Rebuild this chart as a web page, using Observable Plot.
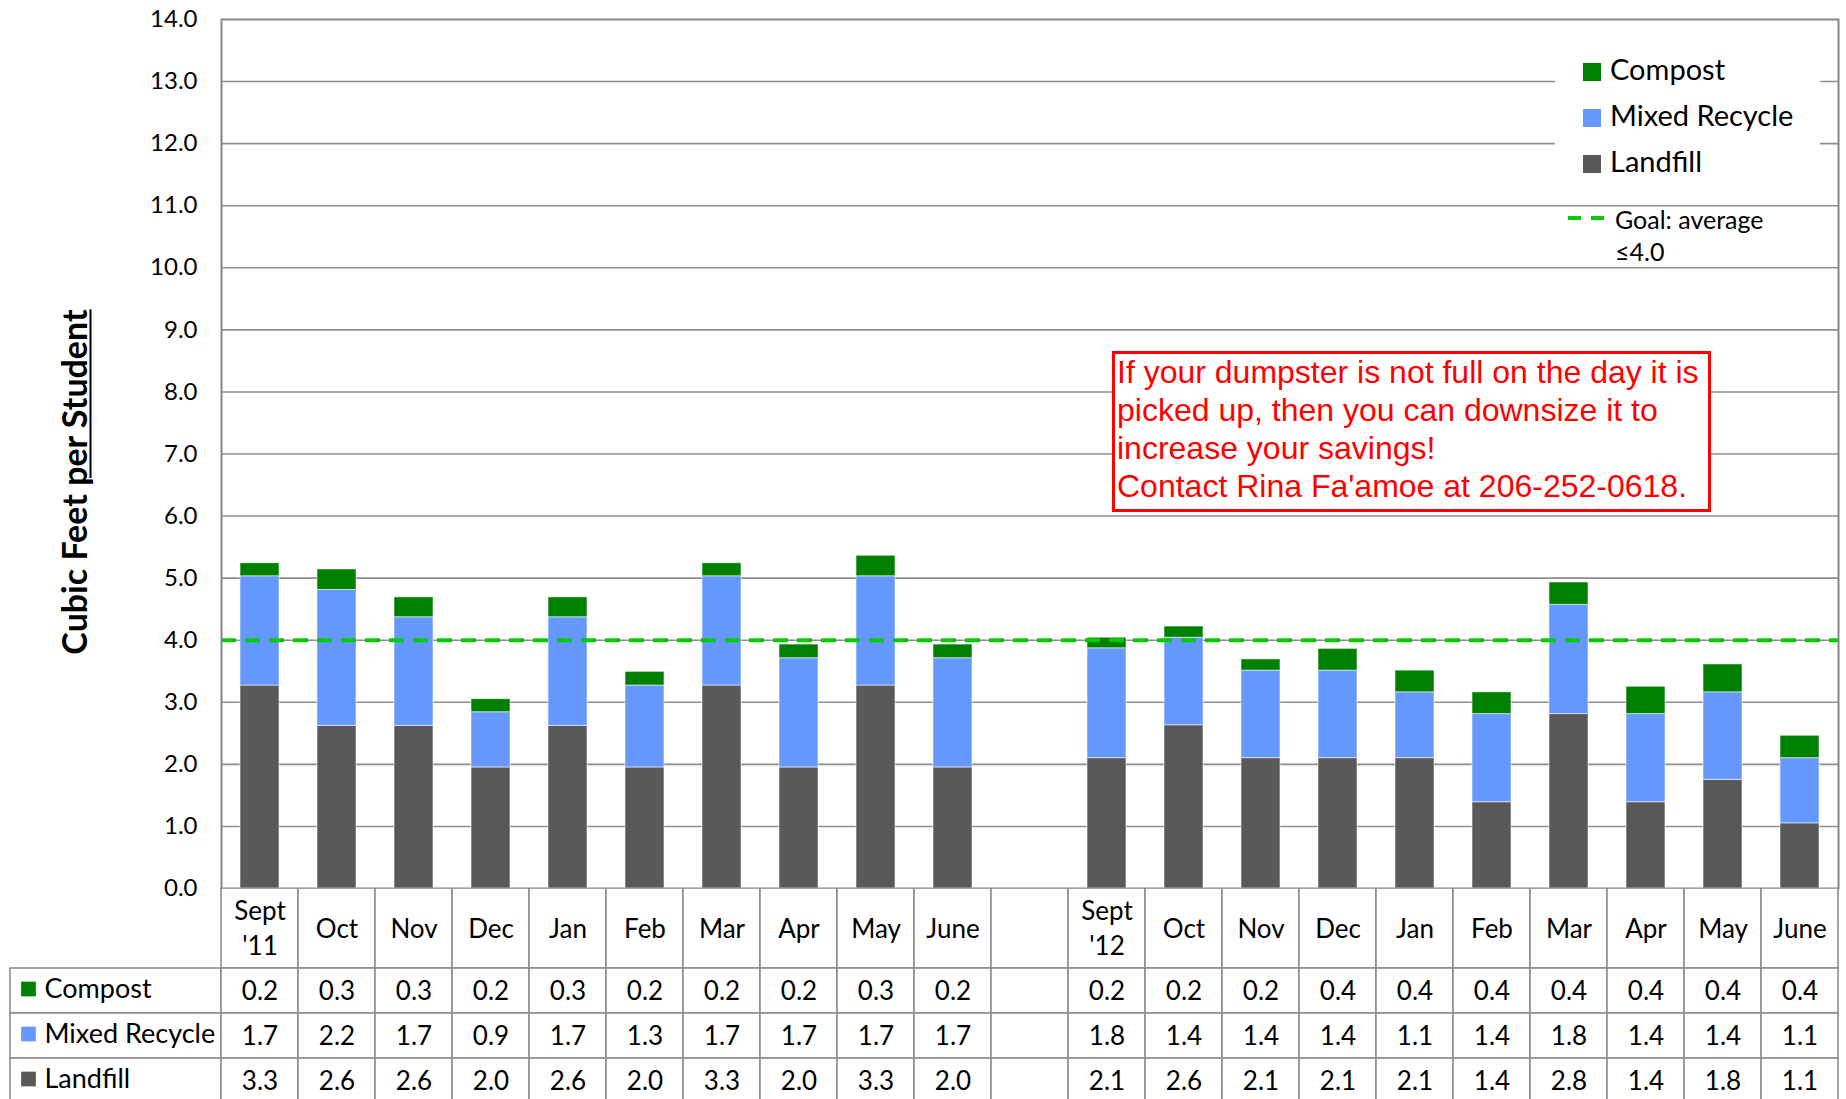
<!DOCTYPE html>
<html>
<head>
<meta charset="utf-8">
<script src="https://cdn.jsdelivr.net/npm/d3@7"></script>
<script src="https://cdn.jsdelivr.net/npm/@observablehq/plot@0.6"></script>
<style>
  html, body { margin: 0; padding: 0; background: #fff; overflow: hidden; }
  #wrap { position: relative; width: 1846px; height: 1099px; font-family: Lato, sans-serif; }
  #wrap svg { position: absolute; left: 0; }
  .ytitle { position: absolute; left: 73px; top: 482px; transform: translate(-50%, -50%) rotate(-90deg);
    white-space: nowrap; font-family: Lato, sans-serif; font-weight: bold; font-size: 34px; color: #000; }
  .ytitle u { text-decoration-thickness: 2px; text-underline-offset: 3px; }
  .legend { position: absolute; left: 1555px; top: 35px; width: 265px; height: 150px; background: #fff; }
  .litem { position: absolute; left: 28px; font-size: 29px; line-height: 34px; white-space: nowrap; color: #000; }
  .litem i { display: inline-block; width: 18px; height: 18px; margin-right: 9px; vertical-align: -1px; }
  .goal { position: absolute; left: 1568px; top: 203px; font-size: 25px; line-height: 32px; color: #000; }
  .goal .dash { position: absolute; top: 13px; width: 13px; height: 3.5px; background: #00CC00; }
  .goal .txt { position: absolute; left: 47px; top: 0; white-space: nowrap; }
  .note { position: absolute; left: 1112px; top: 351px; width: 591px; height: 155px; background: #fff;
    border: 3px solid #FF0000; color: #FF0000; font-family: "Liberation Sans", Arial, sans-serif;
    font-size: 32px; line-height: 38px; padding: 0 0 0 2px; box-sizing: content-box; white-space: nowrap; }
  .note div { position: relative; top: -1px; }
</style>
</head>
<body>
<div id="wrap"></div>
<script>
// ---- data ----
const categories = ["Sept '11","Oct '11","Nov '11","Dec '11","Jan '12","Feb '12","Mar '12","Apr '12","May '12","June '12","gap",
                    "Sept '12","Oct '12","Nov '12","Dec '12","Jan '13","Feb '13","Mar '13","Apr '13","May '13","June '13"];
const tickLabels = ["Sept\n'11","Oct","Nov","Dec","Jan","Feb","Mar","Apr","May","June","",
                    "Sept\n'12","Oct","Nov","Dec","Jan","Feb","Mar","Apr","May","June"];
const yTicks = [0,1,2,3,4,5,6,7,8,9,10,11,12,13,14];
const goal = 4.0;

// bar heights
const landfillBar = [3.27,2.62,2.62,1.95,2.62,1.95,3.27,1.95,3.27,1.95,null,2.10,2.63,2.10,2.10,2.10,1.39,2.81,1.39,1.75,1.05];
const mixedBar    = [1.76,2.19,1.75,0.89,1.75,1.32,1.76,1.76,1.76,1.76,null,1.77,1.41,1.41,1.41,1.06,1.42,1.76,1.42,1.41,1.05];
const compostBar  = [0.21,0.33,0.32,0.21,0.32,0.22,0.21,0.22,0.33,0.22,null,0.17,0.18,0.18,0.35,0.35,0.35,0.36,0.44,0.45,0.36];

// data table values (as printed)
const compostTable  = [0.2,0.3,0.3,0.2,0.3,0.2,0.2,0.2,0.3,0.2,null,0.2,0.2,0.2,0.4,0.4,0.4,0.4,0.4,0.4,0.4];
const mixedTable    = [1.7,2.2,1.7,0.9,1.7,1.3,1.7,1.7,1.7,1.7,null,1.8,1.4,1.4,1.4,1.1,1.4,1.8,1.4,1.4,1.1];
const landfillTable = [3.3,2.6,2.6,2.0,2.6,2.0,3.3,2.0,3.3,2.0,null,2.1,2.6,2.1,2.1,2.1,1.4,2.8,1.4,1.8,1.1];

const seriesNames  = ["Compost","Mixed Recycle","Landfill"];
const seriesColors = ["#008000","#6699FF","#595959"];

const noteLines = ["If your dumpster is not full on the day it is",
                   "picked up, then you can downsize it to",
                   "increase your savings!",
                   "Contact Rina Fa'amoe at 206-252-0618."];

// ---- build ----
const wrap = document.getElementById("wrap");
const stackOrder = ["Landfill","Mixed Recycle","Compost"];
const barSeries = {"Landfill": landfillBar, "Mixed Recycle": mixedBar, "Compost": compostBar};
const barData = [];
for (const s of stackOrder) barSeries[s].forEach((v, i) => { if (v != null) barData.push({cat: categories[i], series: s, value: v}); });

const chart = Plot.plot({
  width: 1846, height: 912,
  marginLeft: 221, marginRight: 8, marginTop: 19, marginBottom: 24,
  style: {fontFamily: "Lato, sans-serif", fontSize: "24px", color: "#000", background: "transparent", overflow: "visible"},
  x: {type: "band", domain: categories, padding: 0, axis: null},
  y: {domain: [0, 14]},
  color: {domain: seriesNames, range: seriesColors},
  marks: [
    Plot.ruleY(yTicks.slice(1, -1), {stroke: "#8e8e8e", strokeWidth: 1.6}),
    Plot.barY(barData, {x: "cat", y: "value", fill: "series", insetLeft: 19, insetRight: 19,
                         stroke: "#ffffff", strokeOpacity: 0.55, strokeWidth: 1}),
    Plot.ruleY([goal], {stroke: "#00CC00", strokeWidth: 4, strokeDasharray: "15,9"}),
    Plot.frame({stroke: "#868686", strokeWidth: 2}),
    Plot.axisY({ticks: yTicks, tickFormat: d => d.toFixed(1), tickSize: 0, tickPadding: 24, label: null, fontSize: 24})
  ]
});
chart.style.top = "0px";
wrap.appendChild(chart);

// ---- data table below the axis ----
const nCols = categories.length;
const colW = (1838 - 221) / nCols;
const labelLeft = (10 - 221) / colW;
const rows = [
  {name: "Compost",       vals: compostTable,  y1: 80,  y2: 125},
  {name: "Mixed Recycle", vals: mixedTable,    y1: 125, y2: 170},
  {name: "Landfill",      vals: landfillTable, y1: 170, y2: 215}
];
const cells = [], texts = [], labels = [];
categories.forEach((c, i) => {
  cells.push({x1: i, x2: i + 1, y1: 0, y2: 80});
  texts.push({x: i + 0.5, y: 38, t: tickLabels[i]});
});
rows.forEach((r, ri) => {
  cells.push({x1: labelLeft, x2: 0, y1: r.y1, y2: r.y2});
  labels.push({x: labelLeft, y: (r.y1 + r.y2) / 2 - 2, t: r.name, c: seriesColors[ri]});
  r.vals.forEach((v, i) => {
    cells.push({x1: i, x2: i + 1, y1: r.y1, y2: r.y2});
    if (v != null) texts.push({x: i + 0.5, y: (r.y1 + r.y2) / 2 - 2, t: v.toFixed(1)});
  });
});

const table = Plot.plot({
  width: 1846, height: 211, margin: 0,
  style: {fontFamily: "Lato, sans-serif", fontSize: "26px", color: "#000", background: "transparent", overflow: "hidden"},
  x: {type: "linear", domain: [0, nCols], range: [221, 1838], axis: null},
  y: {type: "linear", domain: [0, 211], range: [0, 211], axis: null},
  marks: [
    Plot.rect(cells, {x1: "x1", x2: "x2", y1: "y1", y2: "y2", fill: "#fff", stroke: "#8e8e8e", strokeWidth: 1.6}),
    Plot.text(texts, {x: "x", y: "y", text: "t", fontSize: 26, lineHeight: 1.35, fill: "#000"}),
    Plot.dot(labels, {x: "x", y: "y", dx: 18, symbol: "square", r: 8.3, fill: "c", stroke: null}),
    Plot.text(labels, {x: "x", y: "y", dx: 34, text: "t", textAnchor: "start", fontSize: 27, fill: "#000"})
  ]
});
table.style.top = "888px";
wrap.appendChild(table);

// ---- y title ----
const yt = document.createElement("div");
yt.className = "ytitle";
yt.innerHTML = "Cubic Feet <u>per Student</u>";
wrap.appendChild(yt);

// ---- legend ----
const lg = document.createElement("div");
lg.className = "legend";
seriesNames.forEach((s, i) => {
  const it = document.createElement("div");
  it.className = "litem";
  it.style.top = (17 + i * 46) + "px";
  it.innerHTML = `<i style="background:${seriesColors[i]}"></i>${s}`;
  lg.appendChild(it);
});
wrap.appendChild(lg);

const gl = document.createElement("div");
gl.className = "goal";
gl.innerHTML = `<div class="dash" style="left:0"></div><div class="dash" style="left:23px"></div>` +
               `<div class="txt">Goal: average<br>\u2264${goal.toFixed(1)}</div>`;
wrap.appendChild(gl);

// ---- note box ----
const nb = document.createElement("div");
nb.className = "note";
nb.innerHTML = `<div>${noteLines.join("<br>")}</div>`;
wrap.appendChild(nb);
</script>
</body>
</html>
